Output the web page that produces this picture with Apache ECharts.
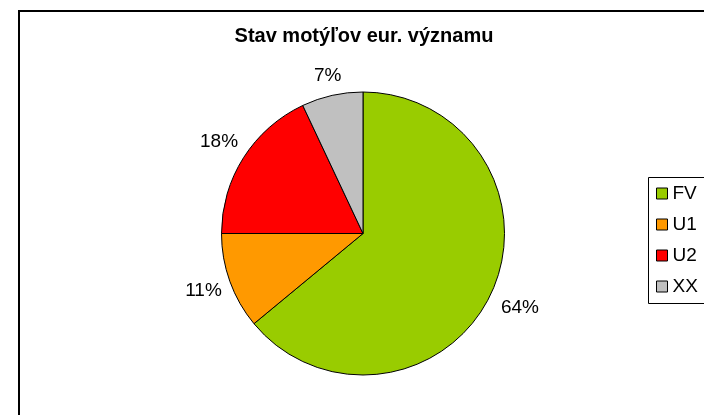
<!DOCTYPE html>
<html>
<head>
<meta charset="utf-8">
<script src="https://cdn.jsdelivr.net/npm/echarts@6/dist/echarts.min.js"></script>
<style>
  html, body { margin: 0; padding: 0; background: #fff; }
  #chart { width: 704px; height: 415px; }
</style>
</head>
<body>
<div id="chart"></div>
<script>
// data
const categories = ['FV', 'U1', 'U2', 'XX'];
const shares = [64, 11, 18, 7];
const colors = ['#99CC00', '#FF9900', '#FF0000', '#C0C0C0'];
// distance of each percent label from the pie edge
const labelGaps = [32, 28, 29, 20];

const chart = echarts.init(document.getElementById('chart'));

const option = {
    animation: false,
    textStyle: { fontFamily: 'Liberation Sans, Arial, sans-serif' },
    title: {
        text: 'Stav motýľov eur. významu',
        left: 364,
        textAlign: 'center',
        top: 26,
        padding: 0,
        textStyle: { fontSize: 20, fontWeight: 'bold', color: '#000' }
    },
    graphic: [
        {
            type: 'rect',
            shape: { x: 19, y: 11, width: 720, height: 440 },
            style: { fill: 'none', stroke: '#000', lineWidth: 2 },
            silent: true
        },
        {
            type: 'rect',
            shape: { x: 648.5, y: 177.5, width: 80, height: 126 },
            style: { fill: 'none', stroke: '#000', lineWidth: 1 },
            silent: true
        }
    ],
    legend: {
        orient: 'vertical',
        left: 656,
        top: 184,
        padding: 0,
        itemWidth: 11,
        itemHeight: 11,
        itemGap: 12,
        icon: 'rect',
        itemStyle: { borderColor: '#000', borderWidth: 1 },
        textStyle: { fontSize: 19, color: '#000' },
        data: categories
    },
    series: [
        {
            type: 'pie',
            center: [363, 233.5],
            radius: 141.5,
            startAngle: 90,
            clockwise: true,
            avoidLabelOverlap: false,
            itemStyle: { borderColor: '#000', borderWidth: 1 },
            label: {
                show: true,
                position: 'outside',
                formatter: '{d}%',
                fontSize: 19,
                color: '#000'
            },
            labelLine: { show: false, length: 28, length2: 0 },
            // centre each label on the end of its (hidden) label line
            labelLayout: function (params) {
                const pts = params.labelLinePoints;
                if (!pts) return {};
                const end = pts[pts.length - 1];
                return { x: end[0], y: end[1], align: 'center', verticalAlign: 'middle' };
            },
            emphasis: { disabled: true },
            data: categories.map((name, i) => ({
                name: name,
                value: shares[i],
                itemStyle: { color: colors[i] },
                labelLine: { length: labelGaps[i], length2: 0 }
            }))
        }
    ]
};

chart.setOption(option);
</script>
</body>
</html>
